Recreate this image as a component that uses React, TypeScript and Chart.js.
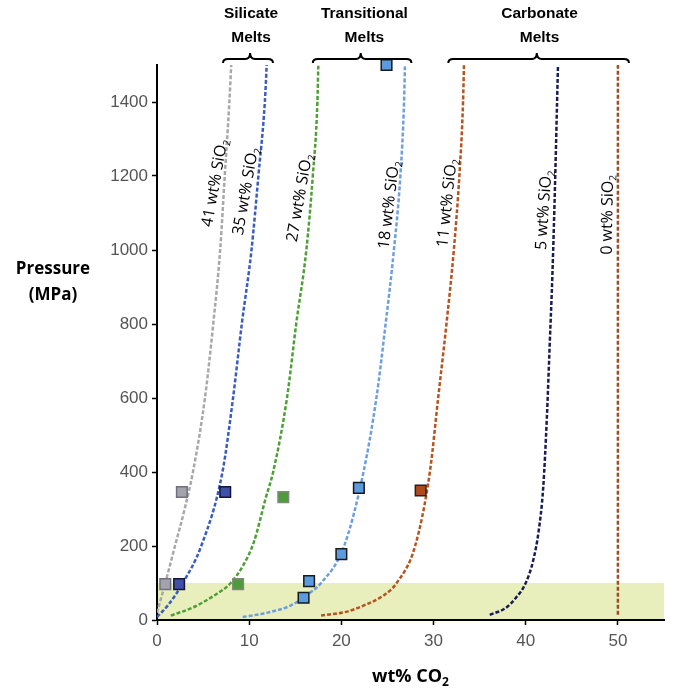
import React, { useEffect, useRef } from "react";
import { Chart, registerables } from "chart.js";

Chart.register(...registerables);

// ---- axis ----
const X_TICKS = [0, 10, 20, 30, 40, 50];
const Y_TICKS = [0, 200, 400, 600, 800, 1000, 1200, 1400];
const X_MAX = 55;
const Y_MAX = 1500;

// ---- shaded band (wt% CO2 range, pressure range) ----
const BAND_X = [0, 55];
const BAND_P = [0, 100];

// ---- solubility curves (x = wt% CO2, y = pressure MPa) ----
const C41_X = [0, 0.9, 1.95, 3.0, 3.9, 5.2, 6.1, 6.85, 7.35, 7.85, 8.05];
const C41_P = [20, 100, 200, 300, 400, 600, 800, 1000, 1200, 1400, 1500];

const C35_X = [0, 1.2, 2.8, 4.8, 7.1, 8.25, 9.2, 10.25, 11.0, 11.7, 11.9];
const C35_P = [8, 40, 100, 200, 400, 600, 800, 1000, 1200, 1400, 1500];

const C27_X = [1.5, 3.9, 6.2, 8.0, 9.4, 10.5, 11.8, 12.6, 14.1, 15.1, 16.2, 16.9, 17.4, 17.5];
const C27_P = [12, 34, 66, 100, 150, 210, 330, 400, 600, 800, 1000, 1200, 1400, 1500];

const C18_X = [9.3, 12.0, 14.5, 16.0, 17.8, 20.3, 22.4, 23.8, 24.8, 25.7, 26.4, 26.8, 26.9];
const C18_P = [8, 20, 39, 63, 100, 200, 400, 600, 800, 1000, 1200, 1400, 1500];

const C11_X = [17.8, 20.5, 22.4, 24.5, 26.0, 28.0, 29.6, 30.5, 31.4, 32.2, 32.8, 33.2, 33.3];
const C11_P = [12, 22, 39, 65, 100, 200, 400, 600, 800, 1000, 1200, 1400, 1500];

const C5_X = [36.1, 37.8, 39.0, 40.0, 40.8, 41.4, 41.9, 42.3, 42.6, 42.9, 43.2, 43.4, 43.5];
const C5_P = [14, 32, 62, 100, 160, 240, 359, 551, 743, 938, 1197, 1400, 1500];

const C0_X = [50, 50];
const C0_P = [14, 1500];

// ---- experimental points ----
const M41_X = [0.9, 2.7];
const M41_P = [97, 346];
const M35_X = [2.4, 7.4];
const M35_P = [97, 346];
const M27_X = [8.8, 13.7];
const M27_P = [97, 332];
const M18_X = [15.9, 16.5, 20.0, 21.9, 24.9];
const M18_P = [60, 105, 178, 357, 1500];
const M11_X = [28.6];
const M11_P = [350];

// ---- curve labels ----
const LABEL_TEXT = ["41 wt% SiO", "35 wt% SiO", "27 wt% SiO", "18 wt% SiO", "11 wt% SiO", "5 wt% SiO", "0 wt% SiO"];
const LABEL_X = [6.3, 9.65, 15.5, 25.2, 31.5, 42.0, 48.9];
const LABEL_P = [1181, 1159, 1141, 1122, 1127, 1108, 1095];
const LABEL_ANGLE = [-80, -80, -80, -83, -84, -86, -89];

// ---- group braces ----
const GROUP_NAMES = [["Silicate", "Melts"], ["Transitional", "Melts"], ["Carbonate", "Melts"]];
const GROUP_X0 = [7.16, 16.9, 31.6];
const GROUP_X1 = [12.58, 27.6, 51.2];
const GROUP_TIP = [10.1, 22.1, 41.2];
const GROUP_TEXT_X = [10.2, 22.5, 41.5];

const xy = (xs: number[], ps: number[]) => xs.map((x, i) => ({ x, y: ps[i] }));

function drawSubText(
  ctx: CanvasRenderingContext2D,
  main: string,
  sub: string,
  x: number,
  y: number,
  angleDeg: number,
  size: number,
  family: string,
  weight: string
) {
  ctx.save();
  ctx.translate(x, y);
  ctx.rotate((angleDeg * Math.PI) / 180);
  const mainFont = `${weight} ${size}px ${family}`;
  const subFont = `${weight} ${Math.round(size * 0.65)}px ${family}`;
  ctx.font = mainFont;
  const w1 = ctx.measureText(main).width;
  ctx.font = subFont;
  const w2 = ctx.measureText(sub).width;
  const total = w1 + w2;
  ctx.textBaseline = "middle";
  ctx.textAlign = "left";
  ctx.fillStyle = "#000";
  ctx.font = mainFont;
  ctx.fillText(main, -total / 2, 0);
  ctx.font = subFont;
  ctx.fillText(sub, -total / 2 + w1, size * 0.32);
  ctx.restore();
}

const bandPlugin = {
  id: "band",
  beforeDraw(chart: any) {
    const { ctx, scales } = chart;
    const x = scales.x;
    const y = scales.y;
    const l = x.getPixelForValue(BAND_X[0]);
    const r = x.getPixelForValue(BAND_X[1]);
    const t = y.getPixelForValue(BAND_P[1]);
    const b = y.getPixelForValue(BAND_P[0]);
    ctx.save();
    ctx.fillStyle = "#e9efbc";
    ctx.fillRect(l, t, r - l, b - t);
    ctx.restore();
  },
};

const annotPlugin = {
  id: "annot",
  afterDraw(chart: any) {
    const { ctx, scales, chartArea } = chart;
    const x = scales.x;
    const y = scales.y;

    // curve labels
    LABEL_TEXT.forEach((t, i) => {
      drawSubText(ctx, t, "2", x.getPixelForValue(LABEL_X[i]), y.getPixelForValue(LABEL_P[i]), LABEL_ANGLE[i], 16, "'Open Sans', sans-serif", "normal");
    });

    // braces
    const top = chartArea.top;
    ctx.save();
    ctx.strokeStyle = "#000";
    ctx.lineWidth = 2;
    GROUP_X0.forEach((x0v, i) => {
      const x0 = x.getPixelForValue(x0v);
      const x1 = x.getPixelForValue(GROUP_X1[i]);
      const cx = x.getPixelForValue(GROUP_TIP[i]);
      const yEnd = top - 2;
      const yLine = top - 6;
      const yTip = top - 12;
      const r = 5;
      ctx.beginPath();
      ctx.moveTo(x0, yEnd);
      ctx.quadraticCurveTo(x0, yLine, x0 + r, yLine);
      ctx.lineTo(cx - r, yLine);
      ctx.quadraticCurveTo(cx, yLine, cx, yTip);
      ctx.quadraticCurveTo(cx, yLine, cx + r, yLine);
      ctx.lineTo(x1 - r, yLine);
      ctx.quadraticCurveTo(x1, yLine, x1, yEnd);
      ctx.stroke();

      ctx.fillStyle = "#000";
      ctx.font = "bold 15.5px 'Liberation Sans', Arial, sans-serif";
      ctx.textAlign = "center";
      ctx.textBaseline = "middle";
      const tx = x.getPixelForValue(GROUP_TEXT_X[i]);
      ctx.fillText(GROUP_NAMES[i][0], tx, top - 51);
      ctx.fillText(GROUP_NAMES[i][1], tx, top - 27);
    });
    ctx.restore();

    // axis titles
    ctx.save();
    ctx.fillStyle = "#000";
    ctx.font = "bold 17px 'Open Sans', sans-serif";
    ctx.textAlign = "center";
    ctx.textBaseline = "middle";
    ctx.fillText("Pressure", 53, 269);
    ctx.fillText("(MPa)", 53, 295);
    ctx.restore();
    drawSubText(ctx, "wt% CO", "2", (chartArea.left + chartArea.right) / 2, 677, 0, 18, "'Open Sans', sans-serif", "bold");
  },
};

const curve = (label: string, xs: number[], ps: number[], color: string, smooth = true) => ({
  label,
  data: xy(xs, ps),
  showLine: true,
  borderColor: color,
  backgroundColor: color,
  borderWidth: 2.5,
  borderDash: [4, 2],
  pointRadius: 0,
  cubicInterpolationMode: smooth ? "monotone" : "default",
  tension: 0,
  order: 2,
});

const markers = (label: string, xs: number[], ps: number[], fill: string, border: string) => ({
  label,
  data: xy(xs, ps),
  showLine: false,
  pointStyle: "rect",
  pointRadius: 7.5,
  pointBorderWidth: 1.5,
  pointBackgroundColor: fill,
  pointBorderColor: border,
  backgroundColor: fill,
  borderColor: border,
  clip: false,
  order: 1,
});

export default function App() {
  const ref = useRef<HTMLCanvasElement>(null);

  useEffect(() => {
    document.body.style.margin = "0";
    if (!ref.current) return;
    const chart = new Chart(ref.current, {
      type: "scatter",
      data: {
        datasets: [
          curve("41", C41_X, C41_P, "#a8a8a8"),
          curve("35", C35_X, C35_P, "#3a5cc0"),
          curve("27", C27_X, C27_P, "#4e9f35"),
          curve("18", C18_X, C18_P, "#6f9ee0"),
          curve("11", C11_X, C11_P, "#b5541e"),
          curve("5", C5_X, C5_P, "#1c1c55"),
          curve("0", C0_X, C0_P, "#9c4f25", false),
          markers("m41", M41_X, M41_P, "#a3a3ab", "#707082"),
          markers("m35", M35_X, M35_P, "#3f51a8", "#15153a"),
          markers("m27", M27_X, M27_P, "#4f9a3a", "#7f8a78"),
          markers("m18", M18_X, M18_P, "#5b9be0", "#1a1a1a"),
          markers("m11", M11_X, M11_P, "#b04a1a", "#222222"),
        ] as any,
      },
      options: {
        responsive: false,
        animation: false,
        layout: { padding: { top: 65, right: 9, left: 0, bottom: 0 } },
        plugins: { legend: { display: false }, tooltip: { enabled: false } },
        scales: {
          x: {
            type: "linear",
            min: 0,
            max: X_MAX,
            afterBuildTicks: (s: any) => {
              s.ticks = X_TICKS.map((v) => ({ value: v }));
            },
            afterFit: (s: any) => {
              s.height = 71;
            },
            grid: { drawOnChartArea: false, drawTicks: true, tickLength: 5, color: "#000", tickWidth: 1.5 },
            border: { color: "#000", width: 2 },
            ticks: {
              color: "#555",
              padding: 6,
              font: { size: 17, family: "'Liberation Sans', Arial, sans-serif" },
              maxRotation: 0,
              callback: (v: any) => String(v),
            },
          },
          y: {
            type: "linear",
            min: 0,
            max: Y_MAX,
            afterBuildTicks: (s: any) => {
              s.ticks = Y_TICKS.map((v) => ({ value: v }));
            },
            afterFit: (s: any) => {
              s.width = 157;
            },
            grid: { drawOnChartArea: false, drawTicks: true, tickLength: 5, color: "#000", tickWidth: 1.5 },
            border: { color: "#000", width: 2 },
            ticks: {
              color: "#555",
              padding: 4,
              font: { size: 17, family: "'Liberation Sans', Arial, sans-serif" },
              callback: (v: any) => String(v),
            },
          },
        },
      },
      plugins: [bandPlugin, annotPlugin],
    } as any);
    return () => chart.destroy();
  }, []);

  return (
    <div style={{ width: 673, height: 691 }}>
      <canvas ref={ref} width={673} height={691} style={{ display: "block" }} />
    </div>
  );
}
